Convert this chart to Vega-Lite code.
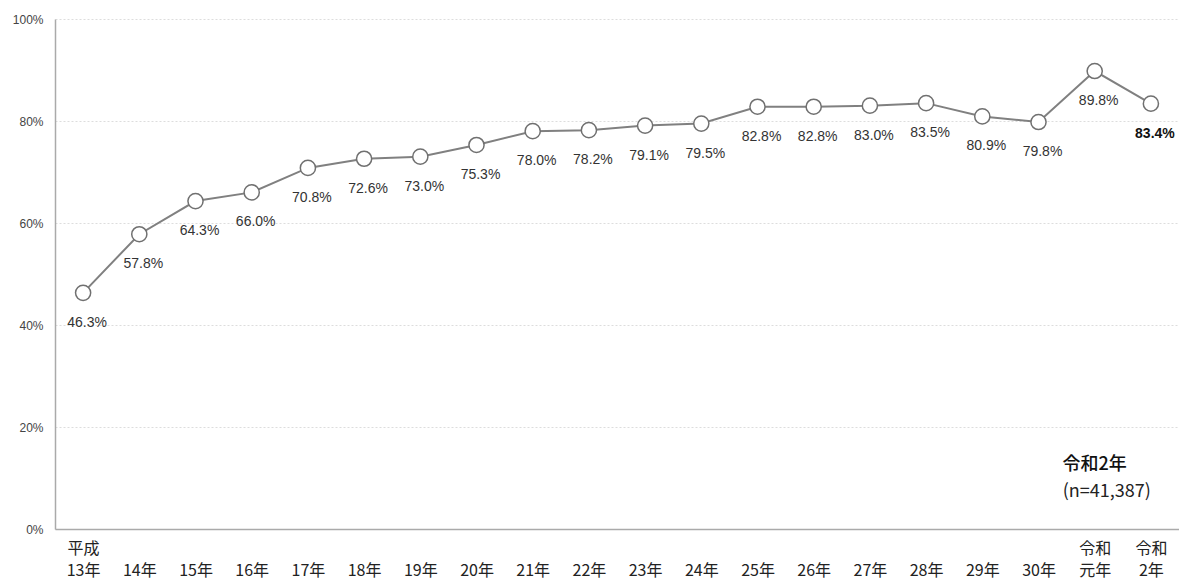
{
  "$schema": "https://vega.github.io/schema/vega-lite/v6.json",
  "autosize": {"type": "none"},
  "padding": {"left": 55, "top": 19, "right": 0, "bottom": 54},
  "width": 1124,
  "height": 510,
  "background": "white",
  "config": {"view": {"stroke": null}, "font": "Liberation Sans"},
  "datasets": {
    "rates": [
      {"year": "平成\n13年", "rate": 46.3},
      {"year": "14年", "rate": 57.8},
      {"year": "15年", "rate": 64.3},
      {"year": "16年", "rate": 66.0},
      {"year": "17年", "rate": 70.8},
      {"year": "18年", "rate": 72.6},
      {"year": "19年", "rate": 73.0},
      {"year": "20年", "rate": 75.3},
      {"year": "21年", "rate": 78.0},
      {"year": "22年", "rate": 78.2},
      {"year": "23年", "rate": 79.1},
      {"year": "24年", "rate": 79.5},
      {"year": "25年", "rate": 82.8},
      {"year": "26年", "rate": 82.8},
      {"year": "27年", "rate": 83.0},
      {"year": "28年", "rate": 83.5},
      {"year": "29年", "rate": 80.9},
      {"year": "30年", "rate": 79.8},
      {"year": "令和\n元年", "rate": 89.8},
      {"year": "令和\n2年", "rate": 83.4}
    ],
    "notes": [
      {"year": "令和\n元年", "rate": 12.6, "note": "令和2年", "kind": "title"},
      {"year": "令和\n元年", "rate": 7.3, "note": "(n=41,387)", "kind": "n"}
    ]
  },
  "data": {"name": "rates"},
  "encoding": {
    "x": {
      "field": "year", "type": "ordinal", "sort": null,
      "scale": {"type": "point", "padding": 0.5},
      "axis": {
        "title": null, "labelAngle": 0, "ticks": false, "grid": false,
        "domainColor": "#aaaaaa", "domainWidth": 1.5,
        "labelFont": "Noto Sans CJK JP", "labelFontSize": 16, "labelColor": "#222222",
        "labelPadding": 11, "labelBaseline": "top", "labelLineHeight": 22,
        "labelExpr": "indexof(datum.label, '\\n') >= 0 ? split(datum.label, '\\n') : ['', datum.label]"
      }
    },
    "y": {
      "field": "rate", "type": "quantitative",
      "scale": {"domain": [0, 100]},
      "axis": {
        "title": null, "values": [0, 20, 40, 60, 80, 100], "ticks": false,
        "labelExpr": "datum.value + '%'", "labelFontSize": 12, "labelColor": "#444444",
        "labelPadding": 12, "domainColor": "#aaaaaa", "domainWidth": 1.5,
        "gridColor": "#dddddd", "gridDash": [2, 2], "gridWidth": 1
      }
    }
  },
  "layer": [
    {"mark": {"type": "line", "color": "#808080", "strokeWidth": 2}},
    {"mark": {"type": "point", "filled": true, "fill": "white", "stroke": "#707070", "strokeWidth": 1.5, "size": 230, "opacity": 1}},
    {
      "transform": [
        {"filter": "datum.year !== '令和\\n2年'"},
        {"calculate": "format(datum.rate, '.1f') + '%'", "as": "label"}
      ],
      "mark": {"type": "text", "dy": 30, "dx": 4, "fontSize": 14, "color": "#333333", "baseline": "middle"},
      "encoding": {"text": {"field": "label"}}
    },
    {
      "transform": [
        {"filter": "datum.year === '令和\\n2年'"},
        {"calculate": "format(datum.rate, '.1f') + '%'", "as": "label"}
      ],
      "mark": {"type": "text", "dy": 30, "dx": 4, "fontSize": 14, "fontWeight": "bold", "color": "#111111", "baseline": "middle"},
      "encoding": {"text": {"field": "label"}}
    },
    {
      "data": {"name": "notes"},
      "transform": [{"filter": "datum.kind === 'title'"}],
      "mark": {"type": "text", "font": "Noto Sans CJK JP", "fontSize": 18, "fontWeight": 500, "color": "#111111", "align": "center", "baseline": "middle", "dx": 0},
      "encoding": {"text": {"field": "note"}}
    },
    {
      "data": {"name": "notes"},
      "transform": [{"filter": "datum.kind === 'n'"}],
      "mark": {"type": "text", "font": "Noto Sans CJK JP", "fontSize": 18, "color": "#222222", "align": "center", "baseline": "middle", "dx": 12},
      "encoding": {"text": {"field": "note"}}
    }
  ]
}
